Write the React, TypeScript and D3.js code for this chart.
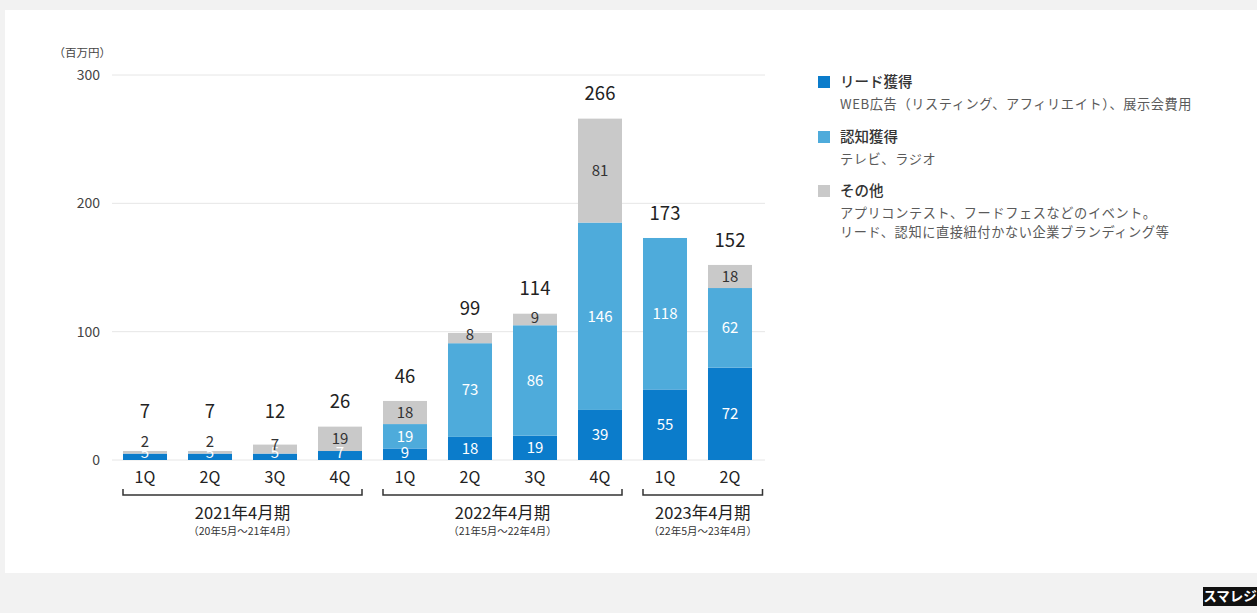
import React from "react";
import * as d3 from "d3";

const quarters = ["1Q", "2Q", "3Q", "4Q", "1Q", "2Q", "3Q", "4Q", "1Q", "2Q"];
const lead = [5, 5, 5, 7, 9, 18, 19, 39, 55, 72];
const aware = [0, 0, 0, 0, 19, 73, 86, 146, 118, 62];
const other = [2, 2, 7, 19, 18, 8, 9, 81, 0, 18];
const totals = [7, 7, 12, 26, 46, 99, 114, 266, 173, 152];
const yTicks = [0, 100, 200, 300];
const groups = [
  { label: "2021年4月期", sub: "（20年5月～21年4月）", from: 0, to: 3 },
  { label: "2022年4月期", sub: "（21年5月～22年4月）", from: 4, to: 7 },
  { label: "2023年4月期", sub: "（22年5月～23年4月）", from: 8, to: 9 },
];
const seriesNames = ["リード獲得", "認知獲得", "その他"];
const seriesDesc = [
  ["WEB広告（リスティング、アフィリエイト）、展示会費用"],
  ["テレビ、ラジオ"],
  ["アプリコンテスト、フードフェスなどのイベント。", "リード、認知に直接紐付かない企業ブランディング等"],
];
const colors = ["#0b7ccb", "#4eabdb", "#c9c9c9"];
const labelColors = ["#ffffff", "#ffffff", "#333333"];

const FONT = "'Noto Sans CJK JP', 'Noto Sans', sans-serif";

export default function App() {
  const W = 1257, H = 613;
  const x = d3
    .scaleBand<number>()
    .domain(d3.range(quarters.length))
    .range([112.5, 762.5])
    .paddingInner(0.323)
    .paddingOuter(0.1615);
  const y = d3.scaleLinear().domain([0, 300]).range([460, 75]);
  const bw = x.bandwidth();
  const stack = d3
    .stack<number, number>()
    .keys([0, 1, 2])
    .value((i, k) => [lead, aware, other][k][i]);
  const stacked = stack(d3.range(quarters.length));

  const legendY = [82, 137, 191];

  return (
    <div style={{ position: "absolute", left: 0, top: 0 }}>
      <svg width={W} height={H} style={{ display: "block", fontFamily: FONT }}>
        <rect x={0} y={0} width={W} height={H} fill="#f2f2f2" />
        <rect x={5} y={10} width={W - 5} height={563} fill="#ffffff" />

        {/* unit */}
        <text x={111} y={57} fontSize={11.5} fill="#444" textAnchor="end">（百万円）</text>

        {/* grid */}
        {yTicks.map((t) => (
          <g key={t}>
            <line x1={112} x2={765} y1={y(t)} y2={y(t)} stroke="#e6e6e6" strokeWidth={1} />
            <text x={100} y={y(t)} dy="0.36em" fontSize={14} fill="#444" textAnchor="end">
              {t}
            </text>
          </g>
        ))}

        {/* bars */}
        {stacked.map((layer, k) => (
          <g key={k}>
            {layer.map((d, i) => {
              const v = d[1] - d[0];
              if (v <= 0) return null;
              return (
                <rect
                  key={i}
                  x={x(i)!}
                  y={y(d[1])}
                  width={bw}
                  height={y(d[0]) - y(d[1])}
                  fill={colors[k]}
                />
              );
            })}
          </g>
        ))}

        {/* segment labels */}
        {stacked.map((layer, k) => (
          <g key={"l" + k}>
            {layer.map((d, i) => {
              const v = d[1] - d[0];
              if (v <= 0) return null;
              const h = y(d[0]) - y(d[1]);
              const shift = Math.max(0, 14 - h) * (k === 2 ? 0.9 : 0.6);
              const cy = (y(d[0]) + y(d[1])) / 2 - shift;
              return (
                <text
                  key={i}
                  x={x(i)! + bw / 2}
                  y={cy}
                  dy="0.36em"
                  fontSize={15}
                  fill={labelColors[k]}
                  textAnchor="middle"
                >
                  {v}
                </text>
              );
            })}
          </g>
        ))}

        {/* totals */}
        {totals.map((t, i) => (
          <text
            key={i}
            x={x(i)! + bw / 2}
            y={Math.min(y(t) - 25, 411)}
            dy="0.36em"
            fontSize={18.5}
            fill="#222"
            textAnchor="middle"
          >
            {t}
          </text>
        ))}

        {/* quarter labels */}
        {quarters.map((q, i) => (
          <text
            key={i}
            x={x(i)! + bw / 2}
            y={477}
            dy="0.36em"
            fontSize={16}
            fill="#222"
            textAnchor="middle"
          >
            {q}
          </text>
        ))}

        {/* group brackets */}
        {groups.map((g, gi) => {
          const x1 = x(g.from)!;
          const x2 = gi === groups.length - 1 ? x.range()[1] : x(g.to)! + bw;
          const cx = (x1 + x2) / 2;
          return (
            <g key={gi}>
              <path
                d={`M${x1},${489}V${495}H${x2}V${489}`}
                fill="none"
                stroke="#333"
                strokeWidth={1.5}
              />
              <text x={cx} y={513} dy="0.36em" fontSize={16.5} fill="#222" textAnchor="middle">
                {g.label}
              </text>
              <text x={cx} y={531} dy="0.36em" fontSize={10.5} fill="#333" textAnchor="middle">
                {g.sub}
              </text>
            </g>
          );
        })}

        {/* legend */}
        {seriesNames.map((n, k) => (
          <g key={n}>
            <rect x={818} y={legendY[k] - 6} width={12} height={12} fill={colors[k]} />
            <text x={840} y={legendY[k]} dy="0.36em" fontSize={14.5} fontWeight={500} fill="#333">
              {n}
            </text>
            {seriesDesc[k].map((line, j) => (
              <text
                key={j}
                x={840}
                y={legendY[k] + 22 + j * 19.5}
                dy="0.36em"
                fontSize={13.2}
                letterSpacing={0.6}
                fill="#5a5a5a"
              >
                {line}
              </text>
            ))}
          </g>
        ))}

        {/* logo */}
        <rect x={1203} y={587} width={54} height={19} fill="#111" />
        <text x={1230} y={596.5} dy="0.36em" fontSize={13.5} fontWeight={700} fill="#fff" textAnchor="middle">
          スマレジ
        </text>
      </svg>
    </div>
  );
}
